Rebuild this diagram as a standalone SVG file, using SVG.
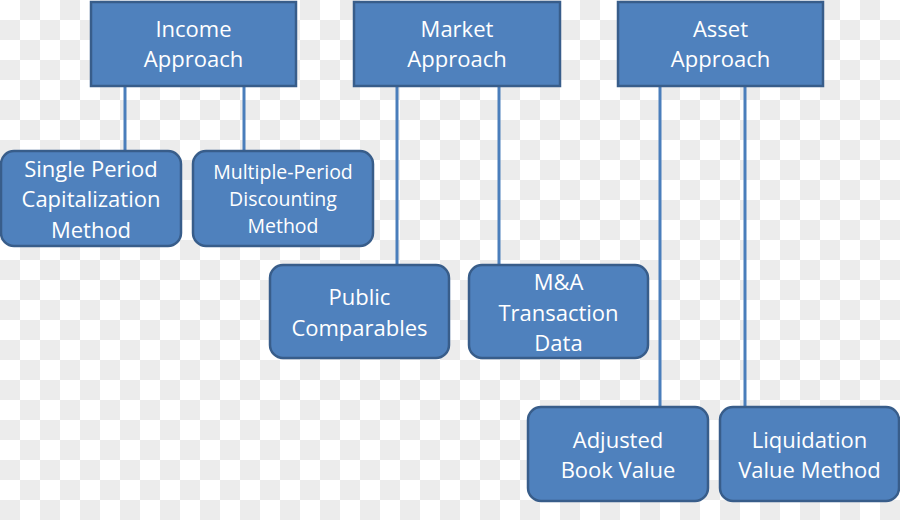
<svg xmlns="http://www.w3.org/2000/svg" width="900" height="520" viewBox="0 0 900 520">
<defs>
<pattern id="chk" x="0" y="0" width="40" height="40" patternUnits="userSpaceOnUse">
<rect width="40" height="40" fill="#ffffff"/>
<rect x="20" y="0" width="20" height="20" fill="#ececec"/>
<rect x="0" y="20" width="20" height="20" fill="#ececec"/>
</pattern>
<style>
.hdr{fill:#4f81bd;stroke:#385d8a;stroke-width:2.5}
.box{fill:#4f81bd;stroke:#385d8a;stroke-width:2.5}
.t{font-family:"Open Sans","Liberation Sans",sans-serif;font-size:22px;fill:#ffffff;text-anchor:middle}
.ts{font-size:19.5px}
.c{stroke:#4a7ebb;stroke-width:3;fill:none}
</style>
</defs>
<rect width="900" height="520" fill="url(#chk)"/>
<g id="connectors">
<line class="c" x1="125" y1="86" x2="125" y2="151"/>
<line class="c" x1="244" y1="86" x2="244" y2="151"/>
<line class="c" x1="397" y1="86" x2="397" y2="265"/>
<line class="c" x1="499" y1="86" x2="499" y2="265"/>
<line class="c" x1="660" y1="86" x2="660" y2="407"/>
<line class="c" x1="745" y1="86" x2="745" y2="407"/>
</g>
<g id="income">
<rect class="hdr" x="91" y="2" width="205" height="84"/>
<text class="t" x="193.5" y="37">Income</text>
<text class="t" x="193.5" y="67">Approach</text>
</g>
<g id="market">
<rect class="hdr" x="354" y="2" width="206" height="84"/>
<text class="t" x="457" y="37">Market</text>
<text class="t" x="457" y="67">Approach</text>
</g>
<g id="asset">
<rect class="hdr" x="618" y="2" width="205" height="84"/>
<text class="t" x="720.5" y="37">Asset</text>
<text class="t" x="720.5" y="67">Approach</text>
</g>
<g id="single">
<rect class="box" x="1" y="151" width="180" height="95" rx="13"/>
<text class="t" x="91" y="177">Single Period</text>
<text class="t" x="91" y="207">Capitalization</text>
<text class="t" x="91" y="238">Method</text>
</g>
<g id="multiple">
<rect class="box" x="193" y="151" width="180" height="95" rx="13"/>
<text class="t ts" x="283" y="179">Multiple-Period</text>
<text class="t ts" x="283" y="206">Discounting</text>
<text class="t ts" x="283" y="233">Method</text>
</g>
<g id="public">
<rect class="box" x="270" y="265" width="179" height="93" rx="13"/>
<text class="t" x="359.5" y="305">Public</text>
<text class="t" x="359.5" y="336">Comparables</text>
</g>
<g id="mna">
<rect class="box" x="469" y="265" width="179" height="93" rx="13"/>
<text class="t" x="558.5" y="290">M&amp;A</text>
<text class="t" x="558.5" y="321">Transaction</text>
<text class="t" x="558.5" y="351">Data</text>
</g>
<g id="adjusted">
<rect class="box" x="528" y="407" width="180" height="94" rx="13"/>
<text class="t" x="618" y="448">Adjusted</text>
<text class="t" x="618" y="478">Book Value</text>
</g>
<g id="liquidation">
<rect class="box" x="720" y="407" width="179" height="94" rx="13"/>
<text class="t" x="809.5" y="448">Liquidation</text>
<text class="t" x="809.5" y="478">Value Method</text>
</g>
</svg>
